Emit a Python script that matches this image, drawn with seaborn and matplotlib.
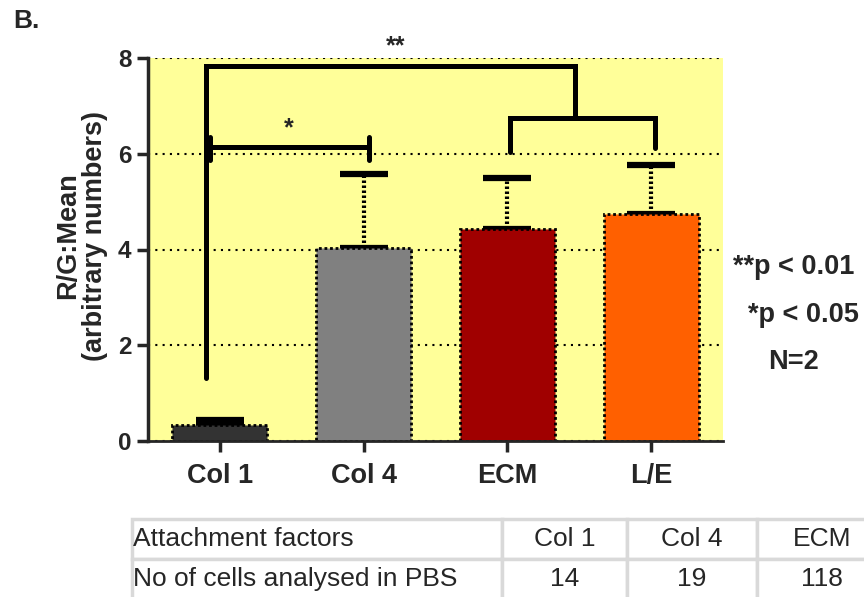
import numpy as np
import pandas as pd
import matplotlib
matplotlib.use("Agg")
import matplotlib.pyplot as plt
import seaborn as sns

# ---- data ----
categories = ["Col 1", "Col 4", "ECM", "L/E"]
means = [0.33, 4.03, 4.43, 4.74]
upper_err = [0.11, 1.54, 1.06, 1.02]
bar_colors = ["#333333", "#808080", "#a00000", "#ff6000"]
yticks = [0, 2, 4, 6, 8]

# significance annotations (data coords)
sig_double_x = [-0.10, -0.10, 2.47, 2.47]
sig_double_y = [1.32, 7.83, 7.83, 6.75]
sig_pair_x = [2.02, 2.02, 3.03, 3.03]
sig_pair_y = [6.04, 6.75, 6.75, 6.12]
sig_single_x = [-0.07, 1.035]
sig_single_y = 6.14
sig_single_cap = [5.87, 6.35]
star_labels = ["**", "*"]
star_pos = [(1.22, 8.0), (0.48, 6.28)]

side_notes = ["**p < 0.01", "*p < 0.05", "N=2"]

table_header = ["Attachment factors", "Col 1", "Col 4", "ECM"]
table_row = ["No of cells analysed in PBS", "14", "19", "118"]

df = pd.DataFrame({"factor": categories, "value": means})

sns.set_style("ticks")
plt.rcParams["font.family"] = ["Liberation Sans", "DejaVu Sans"]

W, H = 864, 597
fig = plt.figure(figsize=(W / 100, H / 100), dpi=100)
ax = fig.add_axes([148 / W, (597 - 441) / H, (723 - 148) / W, (441 - 58) / H])
ax.set_facecolor("#ffff99")

sns.barplot(data=df, x="factor", y="value", hue="factor", order=categories,
            palette=dict(zip(categories, bar_colors)), legend=False, saturation=1,
            width=0.66, errorbar=None, ax=ax, zorder=2)
for p in ax.patches:
    p.set_edgecolor("black")
    p.set_linestyle((0, (1, 1)))
    p.set_linewidth(2.0)

xpos = np.arange(len(categories))
eb = ax.errorbar(xpos, means, yerr=[np.zeros(len(means)), upper_err], fmt="none",
                 ecolor="black", elinewidth=3, capsize=17, capthick=4.5, zorder=1.5)
for lc in eb[2]:
    lc.set_linestyle((0, (0.6, 0.6)))

# significance brackets
lw = 3.6
ax.plot(sig_double_x, sig_double_y, color="black", lw=lw, solid_joinstyle="miter", zorder=4, clip_on=False)
ax.plot(sig_pair_x, sig_pair_y, color="black", lw=lw, solid_joinstyle="miter", zorder=4, clip_on=False)
ax.plot(sig_single_x, [sig_single_y, sig_single_y], color="black", lw=lw, zorder=4)
for xx in sig_single_x:
    ax.plot([xx, xx], sig_single_cap, color="black", lw=lw, zorder=4)
for lab, (sx, sy) in zip(star_labels, star_pos):
    ax.text(sx, sy, lab, ha="center", va="bottom", fontsize=18, fontweight="bold", zorder=5)

ax.set_xlim(-0.5, 3.5)
ax.set_ylim(0, 8)
ax.set_yticks(yticks)
ax.set_yticklabels([str(v) for v in yticks], fontsize=17.5, fontweight="bold")
ax.set_xticks(xpos)
ax.set_xticklabels(categories, fontsize=19.5, fontweight="bold")
ax.set_xlabel("")
ax.set_ylabel("R/G:Mean\n(arbitrary numbers)", fontsize=19.5, fontweight="bold", linespacing=1.05)
ax.yaxis.set_label_coords(-0.07, 0.535)

ax.yaxis.grid(True, linestyle=(0, (1, 2.5)), color="black", lw=1.5, zorder=0)
ax.set_axisbelow(True)
ax.tick_params(axis="y", length=8, width=2.5, direction="out", pad=4)
ax.tick_params(axis="x", length=8, width=2.5, direction="out", pad=8)
for s in ["top", "right"]:
    ax.spines[s].set_visible(False)
ax.spines["left"].set_linewidth(2.5)
ax.spines["bottom"].set_linewidth(2.0)
ax.spines["bottom"].set_linestyle((0, (1, 1)))

# side notes
note_xy = [(733, 267), (748, 315), (768, 362)]
for txt, (px, py) in zip(side_notes, note_xy):
    fig.text(px / W, 1 - py / H, txt, ha="left", va="center", fontsize=19.5, fontweight="bold")

fig.text(13 / W, 1 - 21 / H, "B.", ha="left", va="center", fontsize=19, fontweight="bold")

# table
tax = fig.add_axes([132 / W, -2 / H, (887 - 132) / W, (597 - 519 + 2) / H])
tax.axis("off")
col_w = np.array([370, 125, 130, 130], dtype=float)
col_w = col_w / col_w.sum()
tab = tax.table(cellText=[table_header, table_row], colWidths=list(col_w),
                bbox=[0, 0, 1, 1], cellLoc="center")
tab.auto_set_font_size(False)
for (r, c), cell in tab.get_celld().items():
    cell.set_edgecolor("#d9d9d9")
    cell.set_linewidth(2.5)
    cell.get_text().set_fontsize(19)
    if c == 0:
        cell.get_text().set_ha("left")
        cell.PAD = 0.004

fig.savefig("out.png", dpi=100)
